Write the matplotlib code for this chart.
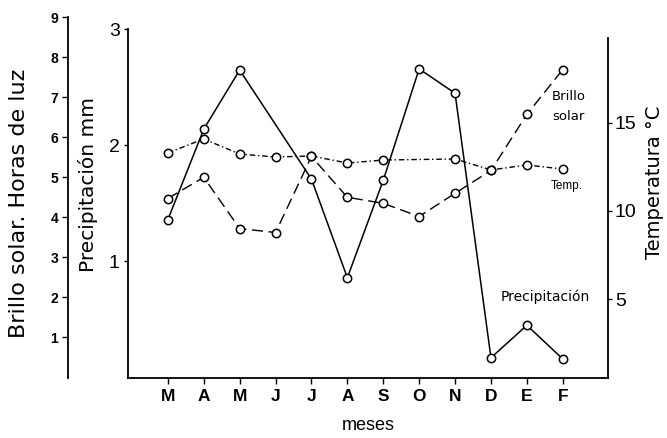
import matplotlib
matplotlib.use("Agg")
import matplotlib.pyplot as plt
import numpy as np

plt.rcParams['font.family'] = ['Liberation Sans', 'DejaVu Sans']

months = ['M', 'A', 'M', 'J', 'J', 'A', 'S', 'O', 'N', 'D', 'E', 'F']
precip_mm = [1.36, 2.14, 2.65, np.nan, 1.71, 0.86, 1.70, 2.66, 2.45, 0.17, 0.45, 0.16]
brillo_h = [4.47, 5.0, 3.72, 3.62, 5.52, 4.5, 4.35, 4.02, 4.6, 5.17, 6.57, 7.69]
temp_c = [13.28, 14.07, 13.22, 13.05, 13.11, 12.71, 12.88, np.nan, 12.94, 12.32, 12.6, 12.37]

precip_ticks = [1, 2, 3]
brillo_ticks = [1, 2, 3, 4, 5, 6, 7, 8, 9]
temp_ticks = [5, 10, 15]

W, H = 667, 438
fig = plt.figure(figsize=(W / 100, H / 100), dpi=100)
L, R, T, B = 128, 608, 16.7, 377.5
ax = fig.add_axes([L / W, 1 - B / H, (R - L) / W, (B - T) / H])

x = np.arange(len(months))

def draw(axis, vals, **kw):
    v = np.asarray(vals, dtype=float)
    m = ~np.isnan(v)
    axis.plot(x[m], v[m], color='black', marker='o', markersize=6,
              markerfacecolor='white', markeredgecolor='black',
              markeredgewidth=1.1, **kw)

def place_label(axis, px, py):
    lab = axis.yaxis.label
    axis.yaxis.set_label_coords((px - L) / (R - L), (B - py) / (B - T))
    lab.set_va('center')
    lab.set_ha('center')

# precipitation (main axis)
draw(ax, precip_mm, lw=1.1, linestyle='-', zorder=3)
ax.set_ylim(0, 3.11)
ax.set_xlim(-1.11, 12.26)
ax.spines['top'].set_visible(False)
ax.spines['right'].set_visible(False)
ax.spines['left'].set_bounds(0, 3)
ax.spines['left'].set_linewidth(1.3)
ax.spines['bottom'].set_linewidth(1.3)
ax.set_yticks(precip_ticks)
ax.set_yticklabels([str(t) for t in precip_ticks], fontsize=14)
ax.tick_params(axis='y', direction='out', length=3, width=1, pad=3)
ax.set_xticks(x)
ax.set_xticklabels(months, fontsize=12.5, fontweight='bold')
ax.tick_params(axis='x', direction='out', length=4, width=1, pad=4)
ax.set_xlabel('meses', fontsize=13, labelpad=10)
ax.set_ylabel('Precipitación mm', fontsize=14.5, family='DejaVu Sans')
place_label(ax, 88, 185)

# temperature (right axis)
axt = ax.twinx()
draw(axt, temp_c, lw=1.0, dashes=(4, 2, 1, 2), zorder=3)
axt.set_ylim(0.59, 20.98)
for s in ['top', 'left', 'bottom']:
    axt.spines[s].set_visible(False)
axt.spines['right'].set_bounds(0.59, 19.77)
axt.spines['right'].set_linewidth(1.3)
axt.set_yticks(temp_ticks)
axt.set_yticklabels([str(t) for t in temp_ticks], fontsize=14)
axt.tick_params(axis='y', direction='out', length=3, width=1, pad=2)
axt.set_ylabel('Temperatura °C', fontsize=14, family='DejaVu Sans')
place_label(axt, 655, 182)

# brillo solar (offset left axis)
axb = ax.twinx()
draw(axb, brillo_h, lw=1.0, dashes=(8, 4), zorder=3)
axb.set_ylim(0, 9.01)
for s in ['top', 'right', 'bottom']:
    axb.spines[s].set_visible(False)
axb.spines['left'].set_visible(True)
axb.spines['left'].set_position(('outward', 60 * 0.72))
axb.spines['left'].set_linewidth(1.3)
axb.yaxis.set_label_position('left')
axb.yaxis.set_ticks_position('left')
axb.set_yticks(brillo_ticks)
axb.set_yticklabels([str(t) for t in brillo_ticks], fontsize=10, fontweight='bold')
axb.tick_params(axis='y', direction='out', length=4, width=1, pad=3)
axb.set_ylabel('Brillo solar. Horas de luz', fontsize=16, family='DejaVu Sans')
place_label(axb, 19, 203)

# annotations
fig.text(569 / W, 1 - 97 / H, 'Brillo', fontsize=9.5, family='DejaVu Sans', ha='center', va='center')
fig.text(568 / W, 1 - 117 / H, 'solar', fontsize=9.5, family='DejaVu Sans', ha='center', va='center')
fig.text(567 / W, 1 - 186 / H, 'Temp.', fontsize=8.5, ha='center', va='center')
fig.text(545 / W, 1 - 297 / H, 'Precipitación', fontsize=10, family='DejaVu Sans', ha='center', va='center')

fig.savefig('out.png', dpi=100)
